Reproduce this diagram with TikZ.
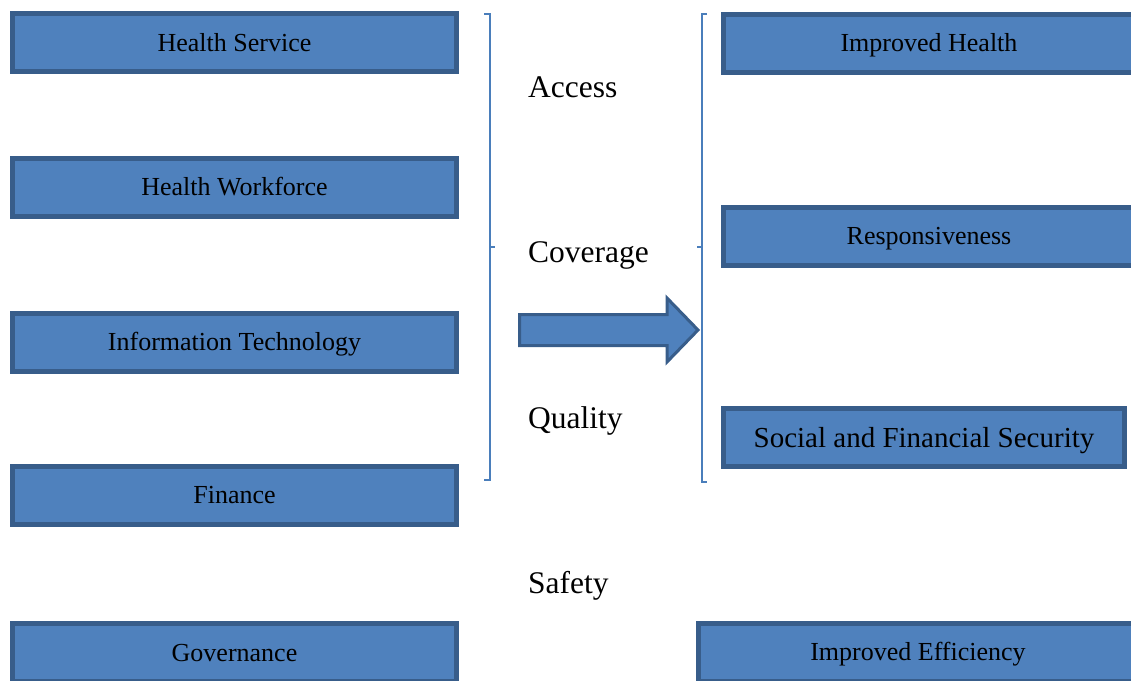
\documentclass[tikz,border=0pt]{standalone}
\usepackage{fontspec}
\setmainfont{Liberation Serif}
\definecolor{boxfill}{HTML}{4F81BD}
\definecolor{boxline}{HTML}{385D8A}
\definecolor{bracket}{HTML}{4A7EBB}
\begin{document}
\begin{tikzpicture}[x=1pt,y=-1pt,
  blockbox/.style={rectangle, fill=boxfill, draw=boxline, line width=5pt,
    minimum height=58pt, inner sep=0pt, text height=17.2pt, text depth=0pt,
    font=\fontsize{26}{30}\selectfont, text=black},
  leftbox/.style={blockbox, minimum width=444pt},
  midlabel/.style={anchor=west, inner sep=0pt, text height=20.9pt, text depth=0pt,
    font=\fontsize{31.5}{36}\selectfont},
  brace/.style={draw=bracket, line width=2pt}]
\useasboundingbox (0,0) rectangle (1131,680);
\clip (0,0) rectangle (1131,680);

% inputs
\node[leftbox] (hs)  at (234.5,42.5) {Health Service};
\node[leftbox] (hw)  at (234.5,187)  {Health Workforce};
\node[leftbox] (it)  at (234.5,342)  {Information Technology};
\node[leftbox] (fin) at (234.5,495)  {Finance};
\node[leftbox] (gov) at (234.5,652.5) {Governance};

% intermediate goals
\node[midlabel] (acc) at (528,87)    {Access};
\node[midlabel] (cov) at (528,252.5) {Coverage};
\node[midlabel] (qua) at (528,418)   {Quality};
\node[midlabel] (saf) at (528,583.5) {Safety};

% outcomes
\node[blockbox, minimum width=411pt] (ih)  at (929,43)    {Improved Health};
\node[blockbox, minimum width=411pt] (res) at (929,236)   {Responsiveness};
\node[blockbox, minimum width=401pt, text height=19.2pt,
      font=\fontsize{29}{33}\selectfont] (sfs) at (924,437.5) {Social and Financial Security};
\node[blockbox, minimum width=439pt] (ie)  at (918,652)   {Improved Efficiency};

% brackets
\draw[brace] (484,14) -- (489.5,14) -- (489.5,480) -- (484,480);
\draw[brace] (489.5,247) -- (495,247);
\draw[brace] (707,14) -- (702,14) -- (702,482) -- (707,482);
\draw[brace] (702,247) -- (697,247);

% block arrow
\draw[fill=boxfill, draw=boxline, line width=3pt, line join=miter]
  (519.5,314.5) -- (667,314.5) -- (667,298) -- (698,330) -- (667,362)
  -- (667,345.5) -- (519.5,345.5) -- cycle;
\end{tikzpicture}
\end{document}
